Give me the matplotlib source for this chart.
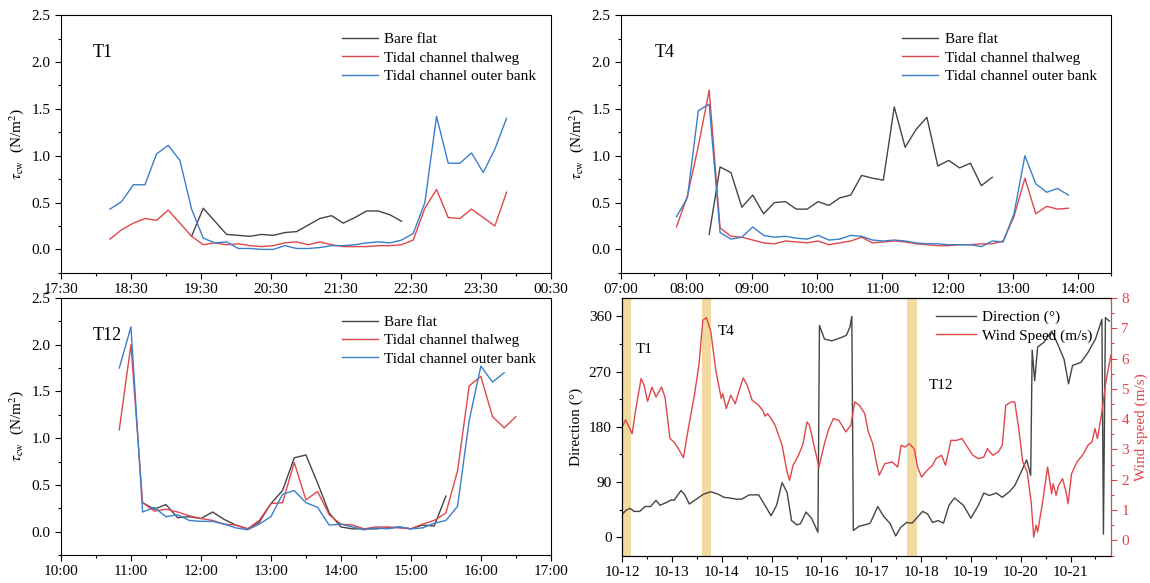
import numpy as np
import matplotlib
matplotlib.use("Agg")
import matplotlib.pyplot as plt
from matplotlib.ticker import MultipleLocator, FixedLocator, FuncFormatter

plt.rcParams['font.family'] = ['Liberation Serif', 'Noto Sans CJK SC']
plt.rcParams['mathtext.fontset'] = 'stix'
plt.rcParams['font.size'] = 11

nan = np.nan

# ---- T1 (10-min samples, start 18:12) ----
t1_start = 18.2
t1_bare = [nan]*7 + [0.14, 0.44, 0.30, 0.16, 0.15, 0.14, 0.16, 0.15, 0.18, 0.19,
                     0.26, 0.33, 0.36, 0.28, 0.34, 0.41, 0.41, 0.37, 0.30] + [nan]*9
t1_thalweg = [0.11, 0.21, 0.28, 0.33, 0.31, 0.42, 0.28, 0.14, 0.05, 0.07,
              0.05, 0.06, 0.04, 0.03, 0.04, 0.07, 0.08, 0.05, 0.08, 0.05,
              0.03, 0.03, 0.03, 0.04, 0.04, 0.05, 0.10, 0.44, 0.64, 0.34,
              0.33, 0.43, 0.34, 0.25, 0.61]
t1_outer = [0.43, 0.51, 0.69, 0.69, 1.02, 1.11, 0.95, 0.43, 0.12, 0.07,
            0.08, 0.01, 0.01, 0.00, 0.00, 0.04, 0.01, 0.01, 0.02, 0.04,
            0.04, 0.05, 0.07, 0.08, 0.07, 0.10, 0.17, 0.50, 1.42, 0.92,
            0.92, 1.03, 0.82, 1.07, 1.40]

# ---- T4 (10-min samples, start 07:51) ----
t4_start = 7.85
t4_bare = [nan]*3 + [0.16, 0.88, 0.82, 0.45, 0.58, 0.38, 0.50, 0.51, 0.43, 0.43,
                     0.51, 0.47, 0.55, 0.58, 0.79, 0.76, 0.74, 1.52, 1.09, 1.28,
                     1.41, 0.89, 0.95, 0.87, 0.92, 0.68, 0.77] + [nan]*7
t4_thalweg = [0.24, 0.57, 1.10, 1.70, 0.23, 0.14, 0.13, 0.10, 0.07, 0.06,
              0.09, 0.08, 0.07, 0.09, 0.05, 0.07, 0.09, 0.13, 0.07, 0.08,
              0.09, 0.08, 0.06, 0.05, 0.04, 0.04, 0.05, 0.05, 0.06, 0.06,
              0.09, 0.35, 0.76, 0.38, 0.46, 0.43, 0.44]
t4_outer = [0.35, 0.55, 1.48, 1.55, 0.18, 0.11, 0.13, 0.24, 0.15, 0.13,
            0.14, 0.12, 0.11, 0.15, 0.10, 0.11, 0.15, 0.14, 0.10, 0.09,
            0.10, 0.09, 0.07, 0.06, 0.06, 0.05, 0.05, 0.05, 0.03, 0.09,
            0.08, 0.38, 1.00, 0.70, 0.61, 0.65, 0.58]

# ---- T12 (10-min samples, start 10:50) ----
t12_start = 10.0 + 50/60
t12_bare = [nan]*2 + [0.31, 0.24, 0.29, 0.15, 0.16, 0.14, 0.21, 0.13, 0.07, 0.03,
                      0.10, 0.30, 0.44, 0.79, 0.82, 0.52, 0.20, 0.05, 0.03, 0.03,
                      0.03, 0.04, 0.05, 0.03, 0.07, 0.06, 0.38] + [nan]*6
t12_thalweg = [1.09, 2.00, 0.31, 0.22, 0.24, 0.21, 0.17, 0.14, 0.12, 0.08,
               0.07, 0.03, 0.12, 0.30, 0.31, 0.74, 0.34, 0.43, 0.18, 0.08,
               0.07, 0.03, 0.05, 0.05, 0.04, 0.03, 0.08, 0.12, 0.20, 0.65,
               1.56, 1.66, 1.23, 1.11, 1.23]
t12_outer = [1.75, 2.19, 0.21, 0.26, 0.16, 0.18, 0.12, 0.11, 0.11, 0.08,
             0.04, 0.02, 0.08, 0.16, 0.40, 0.44, 0.31, 0.26, 0.07, 0.08,
             0.05, 0.02, 0.04, 0.03, 0.05, 0.03, 0.04, 0.09, 0.12, 0.27,
             1.19, 1.77, 1.60, 1.70] + [nan]

# ---- wind (days since 10-12 00:00) ----
dir_day = [0.00, 0.08, 0.16, 0.24, 0.35, 0.46, 0.57, 0.68, 0.76, 0.90,
           0.99, 1.04, 1.18, 1.25, 1.35, 1.49, 1.63, 1.78, 1.93, 2.04,
           2.15, 2.29, 2.40, 2.55, 2.74, 2.88, 2.99, 3.10, 3.21, 3.31,
           3.40, 3.51, 3.58, 3.69, 3.80, 3.93, 3.96, 4.06, 4.21, 4.35,
           4.50, 4.57, 4.61, 4.64, 4.76, 4.87, 4.98, 5.13, 5.24, 5.38,
           5.49, 5.59, 5.71, 5.82, 5.93, 6.03, 6.13, 6.23, 6.34, 6.45,
           6.56, 6.67, 6.85, 7.00, 7.15, 7.26, 7.37, 7.51, 7.63, 7.77,
           7.88, 7.99, 8.12, 8.20, 8.23, 8.28, 8.34, 8.47, 8.62, 8.73,
           8.87, 8.96, 9.04, 9.21, 9.35, 9.50, 9.63, 9.66, 9.70, 9.78]
dir_val = [37, 44, 47, 42, 42, 50, 50, 60, 52, 57,
           61, 60, 76, 70, 54, 62, 70, 74, 70, 65,
           64, 62, 62, 69, 69, 50, 35, 52, 89, 73,
           27, 20, 22, 41, 31, 8, 345, 323, 320, 324,
           329, 342, 360, 11, 18, 20, 23, 50, 35, 22,
           2, 16, 24, 23, 33, 42, 38, 24, 27, 23,
           52, 64, 52, 31, 52, 72, 68, 72, 65, 74,
           84, 103, 126, 101, 305, 255, 310, 318, 336, 317,
           290, 250, 280, 285, 301, 323, 355, 5, 358, 352]
ws_day = [0.00, 0.07, 0.15, 0.20, 0.27, 0.38, 0.44, 0.51, 0.60, 0.68,
          0.79, 0.86, 0.96, 1.04, 1.12, 1.23, 1.34, 1.45, 1.54, 1.62,
          1.69, 1.78, 1.88, 1.99, 2.02, 2.09, 2.18, 2.27, 2.33, 2.43,
          2.51, 2.61, 2.74, 2.82, 2.87, 2.92, 2.99, 3.07, 3.21, 3.31,
          3.36, 3.43, 3.54, 3.63, 3.71, 3.76, 3.85, 3.95, 4.06, 4.15,
          4.24, 4.35, 4.49, 4.59, 4.67, 4.76, 4.87, 4.94, 5.03, 5.10,
          5.16, 5.27, 5.42, 5.53, 5.60, 5.68, 5.76, 5.86, 5.93, 6.01,
          6.12, 6.23, 6.30, 6.41, 6.49, 6.60, 6.71, 6.82, 6.93, 7.04,
          7.15, 7.26, 7.33, 7.44, 7.55, 7.63, 7.70, 7.81, 7.88, 7.96,
          8.04, 8.13, 8.21, 8.26, 8.31, 8.34, 8.44, 8.54, 8.62, 8.65,
          8.71, 8.76, 8.84, 8.91, 8.95, 9.02, 9.13, 9.24, 9.35, 9.43,
          9.49, 9.54, 9.63, 9.71, 9.76, 9.81]
ws_val = [3.74, 3.98, 3.70, 3.52, 4.29, 5.34, 5.12, 4.59, 5.06, 4.73,
          5.06, 4.73, 3.36, 3.25, 3.05, 2.73, 3.80, 4.79, 5.78, 7.26,
          7.35, 6.88, 5.61, 4.68, 4.84, 4.35, 4.79, 4.51, 4.84, 5.36,
          5.12, 4.62, 4.46, 4.29, 4.10, 4.18, 4.02, 3.80, 3.14, 2.26,
          1.98, 2.48, 2.81, 3.19, 3.91, 3.80, 3.14, 2.42, 3.19, 3.69,
          4.02, 3.96, 3.58, 3.80, 4.57, 4.46, 4.18, 3.58, 3.19, 2.59,
          2.15, 2.53, 2.59, 2.42, 3.14, 3.08, 3.19, 3.03, 2.42, 2.09,
          2.31, 2.48, 2.70, 2.81, 2.48, 3.30, 3.30, 3.36, 3.08, 2.81,
          2.70, 2.75, 3.03, 2.81, 2.92, 3.14, 4.46, 4.57, 4.57, 3.69,
          2.59, 2.26, 1.27, 0.11, 0.50, 0.28, 1.27, 2.42, 1.54, 1.87,
          1.49, 1.82, 2.04, 1.60, 1.21, 2.20, 2.59, 2.81, 3.14, 3.25,
          3.69, 3.36, 4.24, 5.23, 5.67, 6.11]
day_labels = ['10-12', '10-13', '10-14', '10-15', '10-16',
              '10-17', '10-18', '10-19', '10-20', '10-21']
bands = {'T1': (0.00, 0.18), 'T4': (1.60, 1.79), 'T12': (5.72, 5.91)}

c_bare = '#454545'
c_red = '#e0474c'
c_blue = '#3b7fcb'
c_band = '#f2d9a0'


def hhmm(h, pos=None):
    m = int(round(h * 60)) % (24 * 60)
    return '%02d:%02d' % (m // 60, m % 60)


def tau_panel(ax, start, bare, thalweg, outer, xlim, name, name_x):
    n = max(len(bare), len(thalweg), len(outer))
    t = start + np.arange(n) / 6.0
    ax.plot(t[:len(bare)], bare, color=c_bare, lw=1.0, label='Bare flat')
    ax.plot(t[:len(thalweg)], thalweg, color=c_red, lw=1.0, label='Tidal channel thalweg')
    ax.plot(t[:len(outer)], outer, color=c_blue, lw=1.0, label='Tidal channel outer bank')
    ax.set_xlim(*xlim)
    ax.set_ylim(-0.25, 2.5)
    ax.xaxis.set_major_locator(FixedLocator(np.arange(xlim[0], xlim[1] + 0.01, 1.0)))
    ax.xaxis.set_minor_locator(MultipleLocator(0.5))
    ax.xaxis.set_major_formatter(FuncFormatter(hhmm))
    ax.yaxis.set_major_locator(MultipleLocator(0.5))
    ax.yaxis.set_minor_locator(MultipleLocator(0.25))
    ax.yaxis.set_major_formatter(FuncFormatter(lambda v, p: '%.1f' % v))
    ax.tick_params(direction='out', length=4, width=0.8, labelsize=11)
    ax.tick_params(which='minor', direction='out', length=2, width=0.8)
    ax.set_ylabel(r'$\tau_{\mathrm{cw}}$  (N/m$^{2}$)', fontsize=11)
    ax.text(name_x, 2.1, name, fontsize=13, va='center', ha='left')
    ax.legend(loc='upper left', bbox_to_anchor=(0.545, 0.985), frameon=False,
              fontsize=11, handlelength=2.4, handletextpad=0.4, labelspacing=0.3)


fig = plt.figure(figsize=(11.5, 5.83), dpi=100)
ax1 = fig.add_axes([0.053, 0.532, 0.426, 0.442])
ax2 = fig.add_axes([0.540, 0.532, 0.426, 0.442])
ax3 = fig.add_axes([0.053, 0.048, 0.426, 0.441])
ax4 = fig.add_axes([0.541, 0.047, 0.425, 0.442])

tau_panel(ax1, t1_start, t1_bare, t1_thalweg, t1_outer, (17.5, 24.5), 'T1', 17.95)
tau_panel(ax2, t4_start, t4_bare, t4_thalweg, t4_outer, (7.0, 14.5), 'T4', 7.52)
tau_panel(ax3, t12_start, t12_bare, t12_thalweg, t12_outer, (10.0, 17.0), 'T12', 10.45)

# ---- wind panel ----
for name, (a, b) in bands.items():
    ax4.axvspan(a, b, color=c_band, lw=0, zorder=0)
l1, = ax4.plot(dir_day, dir_val, color=c_bare, lw=1.0, label='Direction (°)')
ax4.set_xlim(0, 9.81)
ax4.set_ylim(-30, 390)
ax4.set_xticks(np.arange(len(day_labels)))
ax4.set_xticklabels(day_labels)
ax4.xaxis.set_minor_locator(MultipleLocator(0.5))
ax4.yaxis.set_major_locator(MultipleLocator(90))
ax4.yaxis.set_minor_locator(MultipleLocator(45))
ax4.tick_params(direction='out', length=4, width=0.8, labelsize=11)
ax4.tick_params(which='minor', direction='out', length=2, width=0.8)
ax4.set_ylabel('Direction (°)', fontsize=11)
ax4.text(0.27, 300, 'T1', fontsize=11)
ax4.text(1.92, 330, 'T4', fontsize=11)
ax4.text(6.16, 242, 'T12', fontsize=11)

ax5 = ax4.twinx()
l2, = ax5.plot(ws_day, ws_val, color=c_red, lw=1.0, label='Wind Speed (m/s)')
ax5.set_ylim(-0.5, 8)
ax5.yaxis.set_major_locator(MultipleLocator(1))
ax5.yaxis.set_minor_locator(MultipleLocator(0.5))
ax5.tick_params(axis='y', colors=c_red, direction='out', length=4, width=0.8, labelsize=11)
ax5.tick_params(axis='y', which='minor', colors=c_red, direction='out', length=2, width=0.8)
ax5.spines['right'].set_color(c_red)
ax5.set_ylabel('Wind speed (m/s)', color=c_red, fontsize=11)
ax5.legend([l1, l2], [l1.get_label(), l2.get_label()], loc='upper left',
           bbox_to_anchor=(0.615, 1.005), frameon=False, fontsize=11,
           handlelength=2.6, handletextpad=0.4, labelspacing=0.3)

fig.savefig('out.png', dpi=100)
